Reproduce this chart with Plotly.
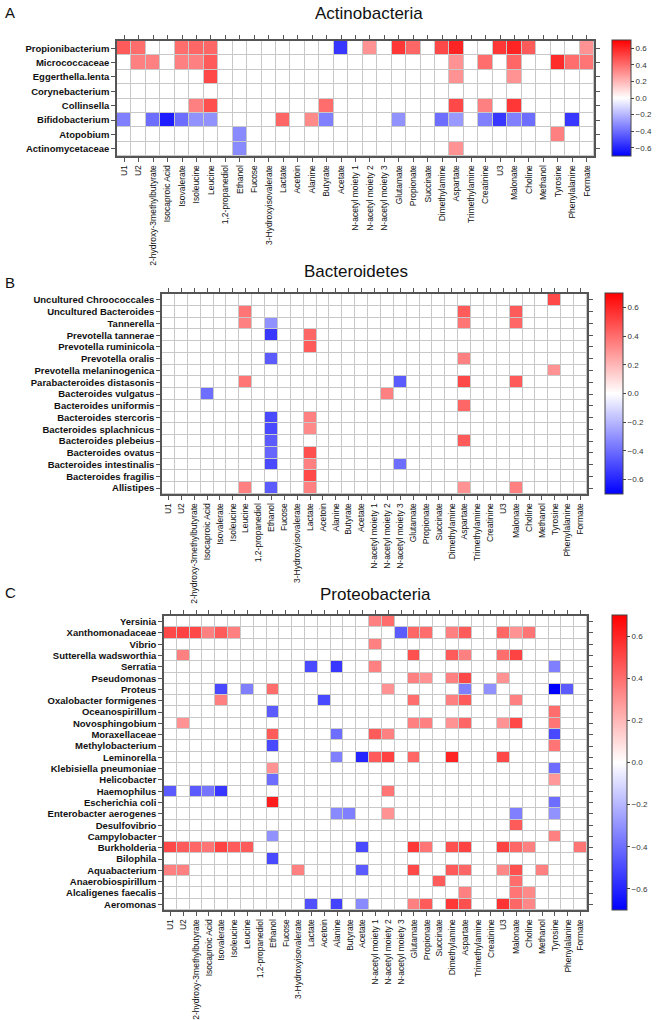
import plotly.graph_objects as go

metabolites = ["U1", "U2", "2-hydroxy-3methylbutyrate", "Isocaproic Acid", "Isovalerate",
               "Isoleucine", "Leucine", "1,2-propanediol", "Ethanol", "Fucose",
               "3-Hydroxyisovalerate", "Lactate", "Acetoin", "Alanine", "Butyrate", "Acetate",
               "N-acetyl moiety 1", "N-acetyl moiety 2", "N-acetyl moiety 3", "Glutamate",
               "Propionate", "Succinate", "Dimethylamine", "Aspartate", "Trimethylamine",
               "Creatinine", "U3", "Malonate", "Choline", "Methanol", "Tyrosine",
               "Phenylalanine", "Formate"]

# Actinobacteria
actino_taxa = ["Propionibacterium", "Micrococcaceae", "Eggerthella.lenta", "Corynebacterium",
               "Collinsella", "Bifidobacterium", "Atopobium", "Actinomycetaceae"]
actino_r = [
    [.45, .40, 0, 0, .40, .42, .42, 0, 0, 0, 0, 0, 0, 0, 0, -.55, 0, .30, 0, .55, .42, 0, .50, .60, 0, 0, .55, .60, .45, 0, 0, 0, .30],
    [0, .35, .35, 0, .35, .35, .45, 0, 0, 0, 0, 0, 0, 0, 0, 0, 0, 0, 0, 0, 0, 0, 0, .30, 0, .40, 0, .42, 0, 0, .58, .40, .38],
    [0, 0, 0, 0, 0, 0, .50, 0, 0, 0, 0, 0, 0, 0, 0, 0, 0, 0, 0, 0, 0, 0, 0, .30, 0, 0, 0, .30, 0, 0, 0, 0, 0],
    [0, 0, 0, 0, 0, 0, 0, 0, 0, 0, 0, 0, 0, 0, 0, 0, 0, 0, 0, 0, 0, 0, 0, 0, 0, 0, 0, 0, 0, 0, 0, 0, 0],
    [0, 0, 0, 0, 0, .35, .48, 0, 0, 0, 0, 0, 0, 0, .40, 0, 0, 0, 0, 0, 0, 0, 0, .50, 0, .35, 0, .55, 0, 0, 0, 0, 0],
    [-.35, 0, -.40, -.62, -.40, -.30, -.30, 0, 0, 0, 0, .42, 0, .32, -.35, 0, 0, 0, 0, -.30, 0, 0, -.40, -.28, 0, -.35, -.55, -.35, -.40, 0, 0, -.55, 0],
    [0, 0, 0, 0, 0, 0, 0, 0, -.32, 0, 0, 0, 0, 0, 0, 0, 0, 0, 0, 0, 0, 0, 0, 0, 0, 0, 0, 0, 0, 0, .35, 0, 0],
    [0, 0, 0, 0, 0, 0, 0, 0, -.32, 0, 0, 0, 0, 0, 0, 0, 0, 0, 0, 0, 0, 0, 0, .30, 0, 0, 0, 0, 0, 0, 0, 0, 0],
]

# Bacteroidetes
bacter_taxa = ["Uncultured Chroococcales", "Uncultured Bacteroides", "Tannerella",
               "Prevotella tannerae", "Prevotella ruminicola", "Prevotella oralis",
               "Prevotella melaninogenica", "Parabacteroides distasonis", "Bacteroides vulgatus",
               "Bacteroides uniformis", "Bacteroides stercoris", "Bacteroides splachnicus",
               "Bacteroides plebeius", "Bacteroides ovatus", "Bacteroides intestinalis",
               "Bacteroides fragilis", "Allistipes"]
bacter_r = [
    [0, 0, 0, 0, 0, 0, 0, 0, 0, 0, 0, 0, 0, 0, 0, 0, 0, 0, 0, 0, 0, 0, 0, 0, 0, 0, 0, 0, 0, 0, .50, 0, 0],
    [0, 0, 0, 0, 0, 0, .38, 0, 0, 0, 0, 0, 0, 0, 0, 0, 0, 0, 0, 0, 0, 0, 0, .45, 0, 0, 0, .45, 0, 0, 0, 0, 0],
    [0, 0, 0, 0, 0, 0, .35, 0, -.30, 0, 0, 0, 0, 0, 0, 0, 0, 0, 0, 0, 0, 0, 0, .38, 0, 0, 0, .42, 0, 0, 0, 0, 0],
    [0, 0, 0, 0, 0, 0, 0, 0, -.55, 0, 0, .42, 0, 0, 0, 0, 0, 0, 0, 0, 0, 0, 0, 0, 0, 0, 0, 0, 0, 0, 0, 0, 0],
    [0, 0, 0, 0, 0, 0, 0, 0, 0, 0, 0, .45, 0, 0, 0, 0, 0, 0, 0, 0, 0, 0, 0, 0, 0, 0, 0, 0, 0, 0, 0, 0, 0],
    [0, 0, 0, 0, 0, 0, 0, 0, -.45, 0, 0, 0, 0, 0, 0, 0, 0, 0, 0, 0, 0, 0, 0, .35, 0, 0, 0, 0, 0, 0, 0, 0, 0],
    [0, 0, 0, 0, 0, 0, 0, 0, 0, 0, 0, 0, 0, 0, 0, 0, 0, 0, 0, 0, 0, 0, 0, 0, 0, 0, 0, 0, 0, 0, .30, 0, 0],
    [0, 0, 0, 0, 0, 0, .38, 0, 0, 0, 0, 0, 0, 0, 0, 0, 0, 0, -.45, 0, 0, 0, 0, .50, 0, 0, 0, .45, 0, 0, 0, 0, 0],
    [0, 0, 0, -.40, 0, 0, 0, 0, 0, 0, 0, 0, 0, 0, 0, 0, 0, .35, 0, 0, 0, 0, 0, 0, 0, 0, 0, 0, 0, 0, 0, 0, 0],
    [0, 0, 0, 0, 0, 0, 0, 0, 0, 0, 0, 0, 0, 0, 0, 0, 0, 0, 0, 0, 0, 0, 0, .42, 0, 0, 0, 0, 0, 0, 0, 0, 0],
    [0, 0, 0, 0, 0, 0, 0, 0, -.50, 0, 0, .35, 0, 0, 0, 0, 0, 0, 0, 0, 0, 0, 0, 0, 0, 0, 0, 0, 0, 0, 0, 0, 0],
    [0, 0, 0, 0, 0, 0, 0, 0, -.50, 0, 0, .32, 0, 0, 0, 0, 0, 0, 0, 0, 0, 0, 0, 0, 0, 0, 0, 0, 0, 0, 0, 0, 0],
    [0, 0, 0, 0, 0, 0, 0, 0, -.45, 0, 0, 0, 0, 0, 0, 0, 0, 0, 0, 0, 0, 0, 0, .45, 0, 0, 0, 0, 0, 0, 0, 0, 0],
    [0, 0, 0, 0, 0, 0, 0, 0, -.42, 0, 0, .48, 0, 0, 0, 0, 0, 0, 0, 0, 0, 0, 0, 0, 0, 0, 0, 0, 0, 0, 0, 0, 0],
    [0, 0, 0, 0, 0, 0, 0, 0, -.50, 0, 0, .35, 0, 0, 0, 0, 0, 0, -.40, 0, 0, 0, 0, 0, 0, 0, 0, 0, 0, 0, 0, 0, 0],
    [0, 0, 0, 0, 0, 0, 0, 0, 0, 0, 0, .50, 0, 0, 0, 0, 0, 0, 0, 0, 0, 0, 0, 0, 0, 0, 0, 0, 0, 0, 0, 0, 0],
    [0, 0, 0, 0, 0, 0, .35, 0, -.45, 0, 0, .35, 0, 0, 0, 0, 0, 0, 0, 0, 0, 0, 0, .30, 0, 0, 0, .35, 0, 0, 0, 0, 0],
]

# Proteobacteria
proteo_taxa = ["Yersinia", "Xanthomonadaceae", "Vibrio", "Sutterella wadsworthia", "Serratia",
               "Pseudomonas", "Proteus", "Oxalobacter formigenes", "Oceanospirillum",
               "Novosphingobium", "Moraxellaceae", "Methylobacterium", "Leminorella",
               "Klebisiella pneumoniae", "Helicobacter", "Haemophilus", "Escherichia coli",
               "Enterobacter aerogenes", "Desulfovibrio", "Campylobacter", "Burkholderia",
               "Bilophila", "Aquabacterium", "Anaerobiospirillum", "Alcaligenes faecalis",
               "Aeromonas"]
proteo_r = [
    [0, 0, 0, 0, 0, 0, 0, 0, 0, 0, 0, 0, 0, 0, 0, 0, .35, .40, 0, 0, 0, 0, 0, 0, 0, 0, 0, 0, 0, 0, 0, 0, 0],
    [.50, .52, .50, .35, .45, .35, 0, 0, 0, 0, 0, 0, 0, 0, 0, 0, 0, 0, -.45, .42, .40, 0, .35, .45, 0, 0, .42, .30, .38, 0, 0, 0, 0],
    [0, 0, 0, 0, 0, 0, 0, 0, 0, 0, 0, 0, 0, 0, 0, 0, .35, 0, 0, 0, 0, 0, 0, 0, 0, 0, 0, 0, 0, 0, 0, 0, 0],
    [0, .35, 0, 0, 0, 0, 0, 0, 0, 0, 0, 0, 0, 0, 0, 0, 0, 0, 0, .48, 0, 0, .45, .35, 0, 0, .40, .52, 0, 0, 0, 0, 0],
    [0, 0, 0, 0, 0, 0, 0, 0, 0, 0, 0, -.50, 0, -.55, 0, 0, .35, 0, 0, 0, 0, 0, 0, 0, 0, 0, 0, 0, 0, 0, -.35, 0, 0],
    [0, 0, 0, 0, 0, 0, 0, 0, 0, 0, 0, 0, 0, 0, 0, 0, 0, 0, 0, .35, .30, 0, .35, .50, 0, 0, .30, 0, 0, 0, 0, 0, 0],
    [0, 0, 0, 0, -.50, 0, -.35, 0, .40, 0, 0, 0, 0, 0, 0, 0, 0, .30, 0, 0, 0, 0, 0, -.35, 0, -.30, 0, 0, 0, 0, -.70, -.45, 0],
    [0, 0, 0, 0, .35, 0, 0, 0, 0, 0, 0, 0, -.50, 0, 0, 0, 0, 0, 0, .40, 0, 0, .35, .45, 0, 0, 0, .35, 0, 0, 0, 0, 0],
    [0, 0, 0, 0, 0, 0, 0, 0, -.45, 0, 0, 0, 0, 0, 0, 0, 0, 0, 0, 0, 0, 0, 0, 0, 0, 0, 0, 0, 0, 0, .40, 0, 0],
    [0, .30, 0, 0, 0, 0, 0, 0, 0, 0, 0, 0, 0, 0, 0, 0, 0, 0, 0, .35, .35, 0, .30, .42, 0, 0, .30, .50, 0, 0, .38, 0, 0],
    [0, 0, 0, 0, 0, 0, 0, 0, .45, 0, 0, 0, 0, -.40, 0, 0, .45, .35, 0, 0, 0, 0, 0, 0, 0, 0, 0, 0, 0, 0, -.50, 0, 0],
    [0, 0, 0, 0, 0, 0, 0, 0, -.50, 0, 0, 0, 0, 0, 0, 0, 0, 0, 0, 0, 0, 0, 0, 0, 0, 0, 0, 0, 0, 0, .38, 0, 0],
    [0, 0, 0, 0, 0, 0, 0, 0, 0, 0, 0, 0, 0, -.35, 0, -.60, .45, .52, 0, .42, 0, 0, .60, 0, 0, 0, .50, 0, 0, 0, 0, 0, 0],
    [0, 0, 0, 0, 0, 0, 0, 0, .30, 0, 0, 0, 0, 0, 0, 0, 0, 0, 0, 0, 0, 0, 0, 0, 0, 0, 0, 0, 0, 0, -.40, 0, 0],
    [0, 0, 0, 0, 0, 0, 0, 0, -.40, 0, 0, 0, 0, 0, 0, 0, 0, 0, 0, 0, 0, 0, 0, 0, 0, 0, 0, 0, 0, 0, .28, 0, 0],
    [-.45, 0, -.45, -.38, -.55, 0, 0, 0, 0, 0, 0, 0, 0, 0, 0, 0, 0, .38, 0, 0, 0, 0, 0, 0, 0, 0, 0, 0, 0, 0, 0, 0, 0],
    [0, 0, 0, 0, 0, 0, 0, 0, .62, 0, 0, 0, 0, 0, 0, 0, 0, 0, 0, 0, 0, 0, 0, 0, 0, 0, 0, 0, 0, 0, -.40, 0, 0],
    [0, 0, 0, 0, 0, 0, 0, 0, 0, 0, 0, 0, 0, -.32, -.35, 0, 0, .30, 0, 0, 0, 0, 0, 0, 0, 0, 0, -.35, 0, 0, -.30, 0, 0],
    [0, 0, 0, 0, 0, 0, 0, 0, 0, 0, 0, 0, 0, 0, 0, 0, 0, 0, 0, 0, 0, 0, 0, 0, 0, 0, 0, .45, 0, 0, 0, 0, 0],
    [0, 0, 0, 0, 0, 0, 0, 0, -.30, 0, 0, 0, 0, 0, 0, 0, 0, 0, 0, 0, 0, 0, 0, 0, 0, 0, 0, 0, 0, 0, .35, 0, 0],
    [.50, .45, .42, .38, .52, .45, .45, 0, 0, 0, 0, 0, 0, 0, 0, -.50, 0, 0, 0, .55, .38, 0, .48, .52, 0, 0, .52, .42, .35, 0, 0, 0, .38],
    [0, 0, 0, 0, 0, 0, 0, 0, -.50, 0, 0, 0, 0, 0, 0, 0, 0, 0, 0, 0, 0, 0, 0, 0, 0, 0, 0, 0, 0, 0, 0, 0, 0],
    [.35, .35, 0, 0, 0, 0, 0, 0, 0, 0, .35, 0, 0, 0, 0, -.45, 0, 0, 0, .50, 0, 0, .45, .42, 0, 0, .33, .48, 0, .35, 0, 0, 0],
    [0, 0, 0, 0, 0, 0, 0, 0, 0, 0, 0, 0, 0, 0, 0, 0, 0, 0, 0, 0, 0, .45, 0, 0, 0, 0, 0, .40, 0, 0, 0, 0, 0],
    [0, 0, 0, 0, 0, 0, 0, 0, 0, 0, 0, 0, 0, 0, 0, 0, 0, 0, 0, 0, 0, 0, 0, .35, 0, 0, 0, .38, .32, 0, 0, 0, 0],
    [0, 0, 0, 0, 0, 0, 0, 0, 0, 0, 0, -.48, 0, -.52, 0, -.32, 0, 0, 0, .35, .45, 0, .55, .48, 0, 0, .56, .42, .33, 0, 0, 0, 0],
]

cbar_ticks = [-0.6, -0.4, -0.2, 0.0, 0.2, 0.4, 0.6]

W, H = 660, 1020
bwr = [[0, "rgb(0,0,255)"], [0.5, "rgb(255,255,255)"], [1, "rgb(255,0,0)"]]

# panel geometry in pixels: plot box (x0, x1, y0, y1), colorbar (x, thickness, y0, y1)
panels = [
    (actino_taxa, actino_r, "Actinobacteria", "A", (117, 594, 41, 156), (612, 19, 40, 156), (369, 14), 13),
    (bacter_taxa, bacter_r, "Bacteroidetes", "B", (162, 587, 294, 494), (605, 18, 293, 494), (356, 272), 282),
    (proteo_taxa, proteo_r, "Proteobacteria", "C", (164, 587, 616, 910), (612, 15, 615, 910), (375, 594), 592),
]

fig = go.Figure()
annotations = []
for i, (taxa, vals, title, letter, box, cb, tpos, ly) in enumerate(panels):
    n = "" if i == 0 else str(i + 1)
    x0, x1, y0, y1 = box
    cx, th, cy0, cy1 = cb
    fig.add_trace(go.Heatmap(
        z=vals, x=metabolites, y=taxa, xaxis="x" + n, yaxis="y" + n,
        colorscale=bwr, zmin=-0.7, zmax=0.7, xgap=1, ygap=1,
        colorbar=dict(x=cx / W, xanchor="left", thickness=th, thicknessmode="pixels",
                      y=1 - (cy0 + cy1) / 2 / H, yanchor="middle", len=(cy1 - cy0) / H,
                      lenmode="fraction", outlinewidth=1, outlinecolor="#444",
                      tickvals=cbar_ticks, tickformat=".1f", ticks="outside", ticklen=3,
                      tickcolor="#444", tickfont=dict(size=8, color="#333"), ypad=0, xpad=0),
    ))
    fig.layout["xaxis" + n] = dict(
        domain=[x0 / W, x1 / W], anchor="y" + n, type="category", tickangle=-90,
        tickmode="array", tickvals=metabolites, ticktext=metabolites,
        ticks="outside", ticklen=4, tickcolor="#555", showline=True, linecolor="#555",
        linewidth=1.5, mirror="ticks", showgrid=False, zeroline=False, automargin=False,
        tickfont=dict(family="Liberation Sans, Arial", size=8.5, color="#111"),
    )
    fig.layout["yaxis" + n] = dict(
        domain=[1 - y1 / H, 1 - y0 / H], anchor="x" + n, type="category", autorange="reversed",
        tickmode="array", tickvals=taxa, ticktext=taxa,
        ticks="outside", ticklen=4, tickcolor="#555", showline=True, linecolor="#555",
        linewidth=1.5, mirror="ticks", showgrid=False, zeroline=False, automargin=False,
        tickfont=dict(family="Liberation Sans, Arial", size=9.5, color="#111", weight="bold"),
    )
    annotations.append(dict(text=title, x=tpos[0] / W, y=1 - tpos[1] / H, xref="paper", yref="paper",
                            xanchor="center", yanchor="middle", showarrow=False,
                            font=dict(family="Liberation Sans, Arial", size=17, color="#111")))
    annotations.append(dict(text=letter, x=3 / W, y=1 - ly / H, xref="paper", yref="paper",
                            xanchor="left", yanchor="middle", showarrow=False,
                            font=dict(family="Liberation Sans, Arial", size=15, color="#111")))

fig.update_layout(
    width=W, height=H, margin=dict(l=0, r=0, t=0, b=0),
    template="none", paper_bgcolor="white", plot_bgcolor="#c8c8c8",
    font=dict(family="Liberation Sans, Arial", color="#111"),
    annotations=annotations,
)
fig.write_html("out.html", config={"displayModeBar": False},
               post_script="document.body.style.margin = '0';")
